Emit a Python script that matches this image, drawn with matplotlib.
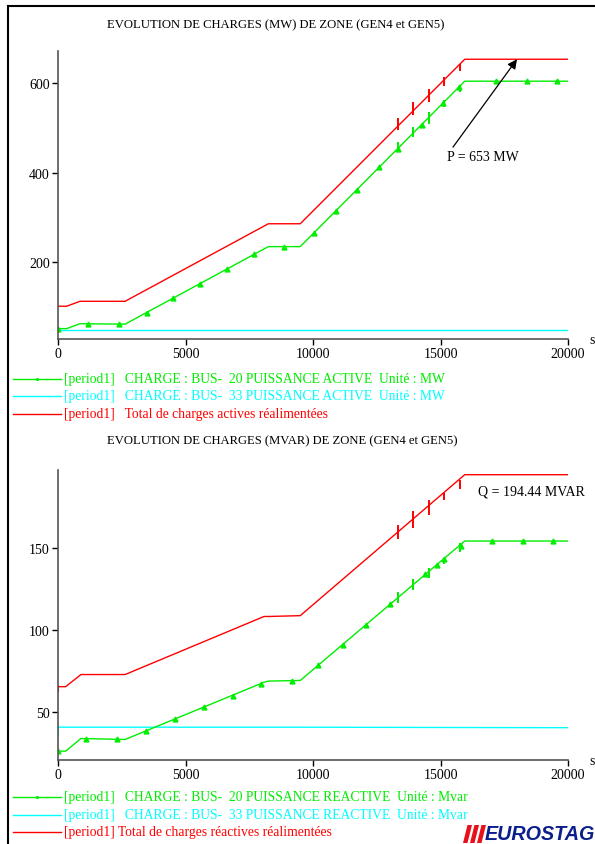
import matplotlib
matplotlib.use("Agg")
import matplotlib.pyplot as plt
from matplotlib.patches import Polygon

plt.rcParams['font.family'] = ['Liberation Serif', 'DejaVu Serif']

# ---- data (time in s) ----
xticks = [0, 5000, 10000, 15000, 20000]

# active power (MW)
t_p = [0, 340, 860, 2630, 8250, 9500, 15950, 20000]
red_p = [102, 102, 113, 113, 286, 286, 653, 653]
green_p = [52, 52, 63, 62, 235, 235, 604, 604]
cyan_p = [49.5, 49.5, 49.5, 49.5, 49.5, 49.5, 49.5, 49.5]
mk_t_p = [0, 1190, 2400, 3480, 4520, 5570, 6615, 7690, 8860, 10050, 10900,
          11725, 12590, 13320, 14260, 15110, 15740, 17180, 18380, 19560]
mk_p = [52, 62, 62, 88, 120, 152, 185, 218, 235, 266, 315,
        362, 412, 453, 507, 556, 592, 604, 604, 604]
spk_t = [13320, 13935, 14537, 15150, 15765]
red_spk_lo_p = [496, 529, 558, 594, 627]
red_spk_hi_p = [521, 557, 587, 613, 642]
green_spk_lo_p = [447, 479, 508, 546, 581]
green_spk_hi_p = [469, 501, 535, 561, 594]

# reactive power (Mvar)
t_q = [0, 300, 900, 2630, 8080, 8250, 9500, 15950, 20000]
red_q = [65.2, 65.2, 72.6, 72.6, 108, 108, 108.5, 194.44, 194.44]
green_q = [25.9, 25.9, 33.6, 33, 67.9, 68.6, 69, 154, 154]
cyan_q = [40.5, 40.5, 40.5, 40.5, 40.5, 40.5, 40.5, 40.3, 40.2]
mk_t_q = [0, 1100, 2300, 3440, 4590, 5730, 6850, 7970, 9160, 10200, 11160,
          12080, 13020, 14400, 14850, 15140, 15800, 17030, 18220, 19420]
mk_q = [25.9, 33.3, 33, 38.1, 45.4, 52.6, 59.7, 66.8, 68.8, 78.2, 90.9,
        103, 115.4, 133.6, 139.5, 143.3, 150.8, 154, 154, 154]
red_spk_lo_q = [155, 162, 170, 179, 186]
red_spk_hi_q = [164, 172, 179, 183.5, 191]
green_spk_lo_q = [116.5, 124, 131.7, 139.8, 147.3]
green_spk_hi_q = [122.9, 131.1, 137.8, 143.9, 152.6]
start_spk_q = [(61.7, 66.3), (24, 27.4), (35.6, 41.7)]

GREEN = '#00ee00'
CYAN = '#00ffff'
RED = '#ff0000'

W, H = 595, 845
fig = plt.figure(figsize=(W / 100, H / 100), dpi=100)


def px_ax(left, top, right, bottom):
    return fig.add_axes([left / W, 1 - bottom / H, (right - left) / W, (bottom - top) / H])


def fx(x):
    return x / W


def fy(y):
    return 1 - y / H


def style_axis(ax, ylim, yticks):
    ax.set_xlim(0, 20000)
    ax.set_ylim(*ylim)
    ax.set_xticks(xticks)
    ax.set_yticks(yticks)
    for s in ('top', 'right'):
        ax.spines[s].set_visible(False)
    for s in ('left', 'bottom'):
        ax.spines[s].set_color('#555555')
        ax.spines[s].set_linewidth(1.2)
    ax.tick_params(direction='out', length=4, width=1, labelsize=10, pad=2)
    ax.patch.set_alpha(0)


# ---- top chart ----
ax1 = px_ax(58, 52, 568, 340)
style_axis(ax1, (28.9, 671.4), [200, 400, 600])
ax1.plot(t_p, cyan_p, color=CYAN, lw=1)
ax1.plot(t_p, green_p, color=GREEN, lw=1)
ax1.plot(mk_t_p, mk_p, ls='none', marker='^', ms=3.5, color=GREEN)
ax1.plot(t_p, red_p, color=RED, lw=1)
ax1.vlines(spk_t, red_spk_lo_p, red_spk_hi_p, color=RED, lw=1.4)
ax1.vlines(spk_t, green_spk_lo_p, green_spk_hi_p, color=GREEN, lw=1.4)
ax1.annotate('', xy=(18000, 653), xytext=(15490, 457),
             arrowprops=dict(arrowstyle='-|>', color='black', lw=0.9,
                             mutation_scale=14, shrinkA=0, shrinkB=0))
ax1.text(15255, 437, 'P = 653 MW', fontsize=10, ha='left', va='center')

# ---- bottom chart ----
ax2 = px_ax(58, 471, 568, 761)
style_axis(ax2, (20.5, 197.3), [50, 100, 150])
ax2.plot(t_q, cyan_q, color=CYAN, lw=1)
ax2.plot(t_q, green_q, color=GREEN, lw=1)
ax2.plot(mk_t_q, mk_q, ls='none', marker='^', ms=3.5, color=GREEN)
ax2.plot(t_q, red_q, color=RED, lw=1)
ax2.vlines(spk_t, red_spk_lo_q, red_spk_hi_q, color=RED, lw=1.4)
ax2.vlines(spk_t, green_spk_lo_q, green_spk_hi_q, color=GREEN, lw=1.4)
for (lo, hi), c in zip(start_spk_q, [RED, GREEN, CYAN]):
    ax2.vlines(0, lo, hi, color=c, lw=1.5)
ax2.text(16470, 184.3, 'Q = 194.44 MVAR', fontsize=10, ha='left', va='center')

# ---- titles, unit labels ----
fig.text(fx(107), fy(25), 'EVOLUTION DE CHARGES (MW) DE ZONE (GEN4 et GEN5)',
         fontsize=9.1, ha='left', va='center')
fig.text(fx(107), fy(441), 'EVOLUTION DE CHARGES (MVAR) DE ZONE (GEN4 et GEN5)',
         fontsize=9.1, ha='left', va='center')
fig.text(fx(589), fy(341), 's', fontsize=10, ha='left', va='center')
fig.text(fx(589), fy(762), 's', fontsize=10, ha='left', va='center')

# ---- legends ----
legend_top = [
    (GREEN, True, '[period1]   CHARGE : BUS-  20 PUISSANCE ACTIVE  Unité : MW'),
    (CYAN, False, '[period1]   CHARGE : BUS-  33 PUISSANCE ACTIVE  Unité : MW'),
    (RED, False, '[period1]   Total de charges actives réalimentées'),
]
legend_bot = [
    (GREEN, True, '[period1]   CHARGE : BUS-  20 PUISSANCE REACTIVE  Unité : Mvar'),
    (CYAN, False, '[period1]   CHARGE : BUS-  33 PUISSANCE REACTIVE  Unité : Mvar'),
    (RED, False, '[period1] Total de charges réactives réalimentées'),
]
for entries, y0 in ((legend_top, 379.5), (legend_bot, 798)):
    for i, (c, mk, label) in enumerate(entries):
        y = fy(y0 + i * 17.5)
        fig.add_artist(plt.Line2D([fx(13), fx(61)], [y, y], color=c, lw=1))
        if mk:
            fig.add_artist(plt.Line2D([fx(37)], [y], color=c, marker='.', ms=2.5))
        fig.text(fx(64), y, label, color=c, fontsize=9.8, ha='left', va='center')

# ---- page frame ----
fig.add_artist(plt.Line2D([fx(8), fx(8)], [fy(7), 0], color='black', lw=1.5))
fig.add_artist(plt.Line2D([fx(8), 1], [fy(7), fy(7)], color='black', lw=1.5))

# ---- logo ----
for k in range(3):
    x0 = 463 + k * 7
    pts = [(x0 + 4.5, 826), (x0 + 9, 826), (x0 + 4.5, 844), (x0, 844)]
    fig.add_artist(Polygon([(fx(a), fy(b)) for a, b in pts], closed=True,
                           facecolor='#e8101a', edgecolor='none'))
fig.text(fx(485), fy(835), 'EUROSTAG', family='Liberation Sans', style='italic',
         weight='bold', fontsize=14.2, color='#0b1f8c', ha='left', va='center')

fig.savefig('out.png', dpi=100)
